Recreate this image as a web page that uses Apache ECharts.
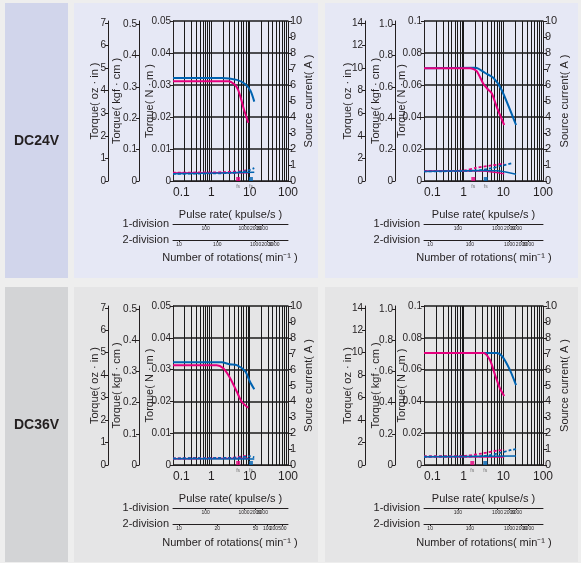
<!DOCTYPE html>
<html><head><meta charset="utf-8">
<script src="https://cdn.jsdelivr.net/npm/echarts@6/dist/echarts.min.js"></script>
<style>html,body{margin:0;padding:0;background:#eeeeee}#c{width:581px;height:563px}</style>
</head><body><div id="c"></div><script>
// ---------- data ----------
const pulseTicks = [0.1, 1, 10, 100];
const pulseGrid = [0.1,0.2,0.3,0.4,0.5,0.6,0.7,0.8,0.9,1,2,3,4,5,6,7,8,9,10,20,30,40,50,60,70,80,90,100];
const div1Ticks = [100, 1000, 2000, 3000, 5000];
const div1Labels = ['100','1000','2000','3000','5000'];
const div2Ticks = [10, 100, 1000, 2000, 3000, 5000];
const div2Labels = ['10','100','1000','2000','3000','5000'];
const div2LabelsDC36Small = ['10','20','50','100','200','500'];

const smallOzTicks = [0,1,2,3,4,5,6,7];
const smallKgfTicks = [0,0.1,0.2,0.3,0.4,0.5];
const smallKgfLabels = ['0','0.1','0.2','0.3','0.4','0.5'];
const bigOzTicks = [0,2,4,6,8,10,12,14];
const bigKgfTicks = [0,0.2,0.4,0.6,0.8,1.0];
const bigKgfLabels = ['0','0.2','0.4','0.6','0.8','1.0'];

// DC24V small motor
const tlPinkTorque = [[0.1,0.0312],[2.8,0.0312],[4,0.0302],[5,0.0285],[6,0.0255],[7,0.0226],[9.2,0.0182]];
const tlBlueTorque = [[0.1,0.0322],[1.9,0.0322],[4.6,0.0316],[7.6,0.0303],[10.5,0.0282],[13.2,0.0248]];
const tlPinkCurDash = [[0.1,0.52],[2,0.55],[5,0.6],[9.2,0.68]];
const tlPinkCurSolid = [[0.1,0.5],[9.2,0.52]];
const tlBlueCurDash = [[0.1,0.45],[3,0.5],[8,0.62],[13.2,0.8]];
const tlBlueCurSolid = [[0.1,0.45],[13.2,0.55]];
const tlFs = [5.0, 10.8];

// DC24V large motor
const trPinkTorque = [[0.1,0.0705],[1.45,0.0705],[2.1,0.0688],[3.1,0.061],[4,0.0575],[5.1,0.0548],[6.8,0.0464],[10.5,0.035]];
const trBlueTorque = [[0.1,0.0705],[2,0.0708],[3.5,0.0675],[5.6,0.0645],[9,0.057],[20.9,0.035]];
const trPinkCurDash = [[0.1,0.62],[1,0.65],[2,0.82],[5,0.97],[10.5,1.08]];
const trPinkCurSolid = [[0.1,0.62],[3,0.62],[6,0.55],[10.5,0.45]];
const trBlueCurDash = [[0.1,0.6],[2,0.65],[5,0.8],[10,0.98],[17,1.12]];
const trBlueCurSolid = [[0.1,0.6],[3,0.65],[8,0.62],[20.9,0.42]];
const trFs = [1.75, 3.6];

// DC36V small motor
const blPinkTorque = [[0.1,0.0314],[1.38,0.0314],[2.05,0.0304],[3.1,0.0273],[4.6,0.0231],[6.2,0.0199],[9.2,0.018]];
const blBlueTorque = [[0.1,0.0323],[1.86,0.0323],[3,0.0317],[4.6,0.0314],[7.6,0.0295],[10.2,0.0262],[13.2,0.0238]];
const blPinkCurDash = [[0.1,0.42],[3,0.45],[7,0.55],[9.2,0.6]];
const blPinkCurSolid = [[0.1,0.4],[9.2,0.42]];
const blBlueCurDash = [[0.1,0.42],[5,0.46],[10,0.55],[13.2,0.48]];
const blBlueCurSolid = [[0.1,0.4],[13.2,0.38]];
const blFs = [5.0, 10.8];

// DC36V large motor
const brPinkTorque = [[0.1,0.0705],[3.2,0.0705],[4.6,0.066],[6.2,0.0566],[8.2,0.0482],[10.5,0.0434]];
const brBlueTorque = [[0.1,0.0705],[6.8,0.0705],[9.6,0.068],[14.7,0.0597],[20.9,0.0503]];
const brPinkCurDash = [[0.1,0.55],[1,0.57],[2.8,0.72],[6.8,0.9],[10.5,0.95]];
const brPinkCurSolid = [[0.1,0.52],[10.5,0.5]];
const brBlueCurDash = [[0.1,0.52],[3,0.55],[8,0.75],[16,0.95],[20.9,1.0]];
const brBlueCurSolid = [[0.1,0.52],[20.9,0.56]];
const brFs = [1.65, 3.5];

// ---------- layout / style ----------
const FONT = '"Liberation Sans Narrow","Arial Narrow","Liberation Sans",Arial,sans-serif';
const INK = '#231f20';
const PINK = '#e5007e', BLUE = '#0063b1';

const panels = [
  {grid:{left:173,top:21,width:115,height:160}, nm:[0.05,0.01], kgfMax:0.51, ozMax:7.08,
   kgfT:smallKgfTicks, kgfL:smallKgfLabels, ozT:smallOzTicks, kgfOff:34, ozOff:65,
   gOz:8, gKgf:17, gNm:18, gA:15, d2L:div2Labels,
   data:[tlPinkTorque,tlBlueTorque,tlPinkCurDash,tlPinkCurSolid,tlBlueCurDash,tlBlueCurSolid], fs:tlFs},
  {grid:{left:424,top:21,width:119,height:160}, nm:[0.1,0.02], kgfMax:1.02, ozMax:14.16,
   kgfT:bigKgfTicks, kgfL:bigKgfLabels, ozT:bigOzTicks, kgfOff:29, ozOff:59,
   gOz:12, gKgf:14, gNm:17, gA:16, d2L:div2Labels,
   data:[trPinkTorque,trBlueTorque,trPinkCurDash,trPinkCurSolid,trBlueCurDash,trBlueCurSolid], fs:trFs},
  {grid:{left:173,top:306,width:115,height:159}, nm:[0.05,0.01], kgfMax:0.51, ozMax:7.08,
   kgfT:smallKgfTicks, kgfL:smallKgfLabels, ozT:smallOzTicks, kgfOff:34, ozOff:65,
   gOz:8, gKgf:17, gNm:18, gA:15, d2L:div2LabelsDC36Small,
   data:[blPinkTorque,blBlueTorque,blPinkCurDash,blPinkCurSolid,blBlueCurDash,blBlueCurSolid], fs:blFs},
  {grid:{left:424,top:306,width:119,height:159}, nm:[0.1,0.02], kgfMax:1.02, ozMax:14.16,
   kgfT:bigKgfTicks, kgfL:bigKgfLabels, ozT:bigOzTicks, kgfOff:29, ozOff:59,
   gOz:12, gKgf:14, gNm:17, gA:16, d2L:div2Labels,
   data:[brPinkTorque,brBlueTorque,brPinkCurDash,brPinkCurSolid,brBlueCurDash,brBlueCurSolid], fs:brFs}
];

const fmtNum = v => String(Number(Number(v).toPrecision(6)));
const lineAx = {show:true, onZero:false, lineStyle:{color:INK, width:1}};
const nameStyle = {fontSize:11, color:INK, fontFamily:FONT};

const grids = [], xAxes = [], yAxes = [], series = [];
panels.forEach((p, i) => {
  grids.push(Object.assign({containLabel:false}, p.grid));
  // main pulse-rate axis
  xAxes.push({type:'log', logBase:10, gridIndex:i, min:0.1, max:100, position:'bottom',
    axisLine:lineAx, axisTick:{show:false, customValues:pulseGrid},
    axisLabel:{customValues:pulseTicks, fontSize:12, color:INK, margin:6, fontFamily:FONT,
      formatter:fmtNum, alignMinLabel:'left', alignMaxLabel:'center'},
    splitLine:{show:true, lineStyle:{color:'#1a1a1a', width:1}},
    name:'Pulse rate( kpulse/s )', nameLocation:'middle', nameGap:28, nameMoveOverlap:false, nameTextStyle:nameStyle});
  // 1-division rotation axis
  xAxes.push({type:'log', logBase:10, gridIndex:i, min:14, max:14000, position:'bottom', offset:43,
    axisLine:lineAx, axisTick:{show:true, length:2, customValues:div1Ticks, lineStyle:{color:INK}},
    axisLabel:{customValues:div1Ticks, fontSize:5, color:INK, margin:2, fontFamily:FONT,
      formatter:v => div1Labels[div1Ticks.findIndex(t => Math.abs(t - v) < 1e-6 * t)] || ''},
    splitLine:{show:false},
    name:'1-division', nameLocation:'start', nameGap:4, nameMoveOverlap:false, nameTextStyle:nameStyle});
  // 2-division rotation axis
  const d2L = p.d2L;
  xAxes.push({type:'log', logBase:10, gridIndex:i, min:7, max:7000, position:'bottom', offset:59,
    axisLine:lineAx, axisTick:{show:true, length:2, customValues:div2Ticks, lineStyle:{color:INK}},
    axisLabel:{customValues:div2Ticks, fontSize:5, color:INK, margin:2, fontFamily:FONT,
      formatter:v => d2L[div2Ticks.findIndex(t => Math.abs(t - v) < 1e-6 * t)] || ''},
    splitLine:{show:false},
    name:'2-division', nameLocation:'start', nameGap:4, nameMoveOverlap:false, nameTextStyle:nameStyle});

  // N·m axis
  yAxes.push({type:'value', gridIndex:i, position:'left', min:0, max:p.nm[0], interval:p.nm[1],
    axisLine:lineAx, axisTick:{show:true, length:3, lineStyle:{color:INK}},
    axisLabel:{fontSize:10, color:INK, margin:2, fontFamily:FONT, formatter:fmtNum},
    splitLine:{show:true, lineStyle:{color:'#1a1a1a', width:1.5}},
    name:'Torque( N · m )', nameLocation:'middle', nameRotate:90, nameGap:p.gNm, nameMoveOverlap:false, nameTextStyle:nameStyle});
  // current axis
  yAxes.push({type:'value', gridIndex:i, position:'right', min:0, max:10, interval:1,
    axisLine:lineAx, axisTick:{show:true, length:4, lineStyle:{color:INK}},
    axisLabel:{fontSize:11, color:INK, margin:2, fontFamily:FONT},
    splitLine:{show:false},
    name:'Source current( A )', nameLocation:'middle', nameRotate:90, nameGap:p.gA, nameMoveOverlap:false, nameTextStyle:nameStyle});
  // kgf·cm axis
  const kT = p.kgfT, kL = p.kgfL;
  yAxes.push({type:'value', gridIndex:i, position:'left', offset:p.kgfOff, min:0, max:p.kgfMax,
    axisLine:lineAx, axisTick:{show:true, length:3, customValues:kT, lineStyle:{color:INK}},
    axisLabel:{customValues:kT, fontSize:10, color:INK, margin:2, fontFamily:FONT,
      formatter:v => kL[kT.findIndex(t => Math.abs(t - v) < 1e-9)] || ''},
    splitLine:{show:false},
    name:'Torque( kgf · cm )', nameLocation:'middle', nameRotate:90, nameGap:p.gKgf, nameMoveOverlap:false, nameTextStyle:nameStyle});
  // oz·in axis
  yAxes.push({type:'value', gridIndex:i, position:'left', offset:p.ozOff, min:0, max:p.ozMax,
    axisLine:lineAx, axisTick:{show:true, length:3, customValues:p.ozT, lineStyle:{color:INK}},
    axisLabel:{customValues:p.ozT, fontSize:10, color:INK, margin:2, fontFamily:FONT, formatter:fmtNum},
    splitLine:{show:false},
    name:'Torque( oz · in )', nameLocation:'middle', nameRotate:90, nameGap:p.gOz, nameMoveOverlap:false, nameTextStyle:nameStyle});

  const xi = 3 * i, yNm = 4 * i, yA = 4 * i + 1;
  const d = p.data;
  const mk = (data, yIdx, color, width, type, z) => ({type:'line', xAxisIndex:xi, yAxisIndex:yIdx, data,
    showSymbol:false, symbol:'none', smooth:0.25, silent:true, z,
    lineStyle:{color, width, type}});
  series.push(mk(d[3], yA, PINK, 1.5, 'solid', 3));
  series.push(mk(d[5], yA, BLUE, 1.5, 'solid', 3));
  series.push(mk(d[2], yA, PINK, 1.8, [3,2], 4));
  series.push(mk(d[4], yA, BLUE, 1.8, [3,2], 4));
  series.push(mk(d[1], yNm, BLUE, 2, 'solid', 5));
  series.push(mk(d[0], yNm, PINK, 2, 'solid', 6));
  series.push({type:'scatter', xAxisIndex:xi, yAxisIndex:yNm, clip:false, silent:true, z:7,
    symbol:'rect', symbolSize:[4,4], symbolOffset:[0,-2],
    label:{show:true, position:'bottom', formatter:'fs', fontSize:5, color:'#555', distance:3, fontFamily:FONT},
    data:[{value:[p.fs[0],0], itemStyle:{color:PINK}}, {value:[p.fs[1],0], itemStyle:{color:BLUE}}]});
});

const rect = (x, y, w, h, fill) => ({type:'rect', z:-10, silent:true, shape:{x, y, width:w, height:h}, style:{fill}});
const txt = (x, y, text, font) => ({type:'text', z:5, silent:true, x, y,
  style:{text, x:0, y:0, align:'center', verticalAlign:'middle', font, fill:INK}});
const sub = '11px ' + FONT;

const option = {
  backgroundColor:'#eeeeee',
  animation:false,
  textStyle:{fontFamily:FONT},
  grid:grids, xAxis:xAxes, yAxis:yAxes, series,
  graphic:{elements:[
    rect(5,3,63,275,'#d1d5eb'),
    rect(5,287,63,275,'#d3d4d6'),
    rect(74,3,244,275,'#e6e8f5'),
    rect(325,3,253,275,'#e6e8f5'),
    rect(74,287,244,275,'#e5e5e6'),
    rect(325,287,253,275,'#e5e5e6'),
    txt(36.5,141,'DC24V','bold 14px ' + FONT),
    txt(36.5,425,'DC36V','bold 14px ' + FONT),
    txt(230,258,'Number of rotations( min⁻¹ )', sub),
    txt(484,258,'Number of rotations( min⁻¹ )', sub),
    txt(230,543,'Number of rotations( min⁻¹ )', sub),
    txt(484,543,'Number of rotations( min⁻¹ )', sub)
  ]}
};
const chart = echarts.init(document.getElementById('c'), null, {renderer:'canvas'});
chart.setOption(option);
</script></body></html>
